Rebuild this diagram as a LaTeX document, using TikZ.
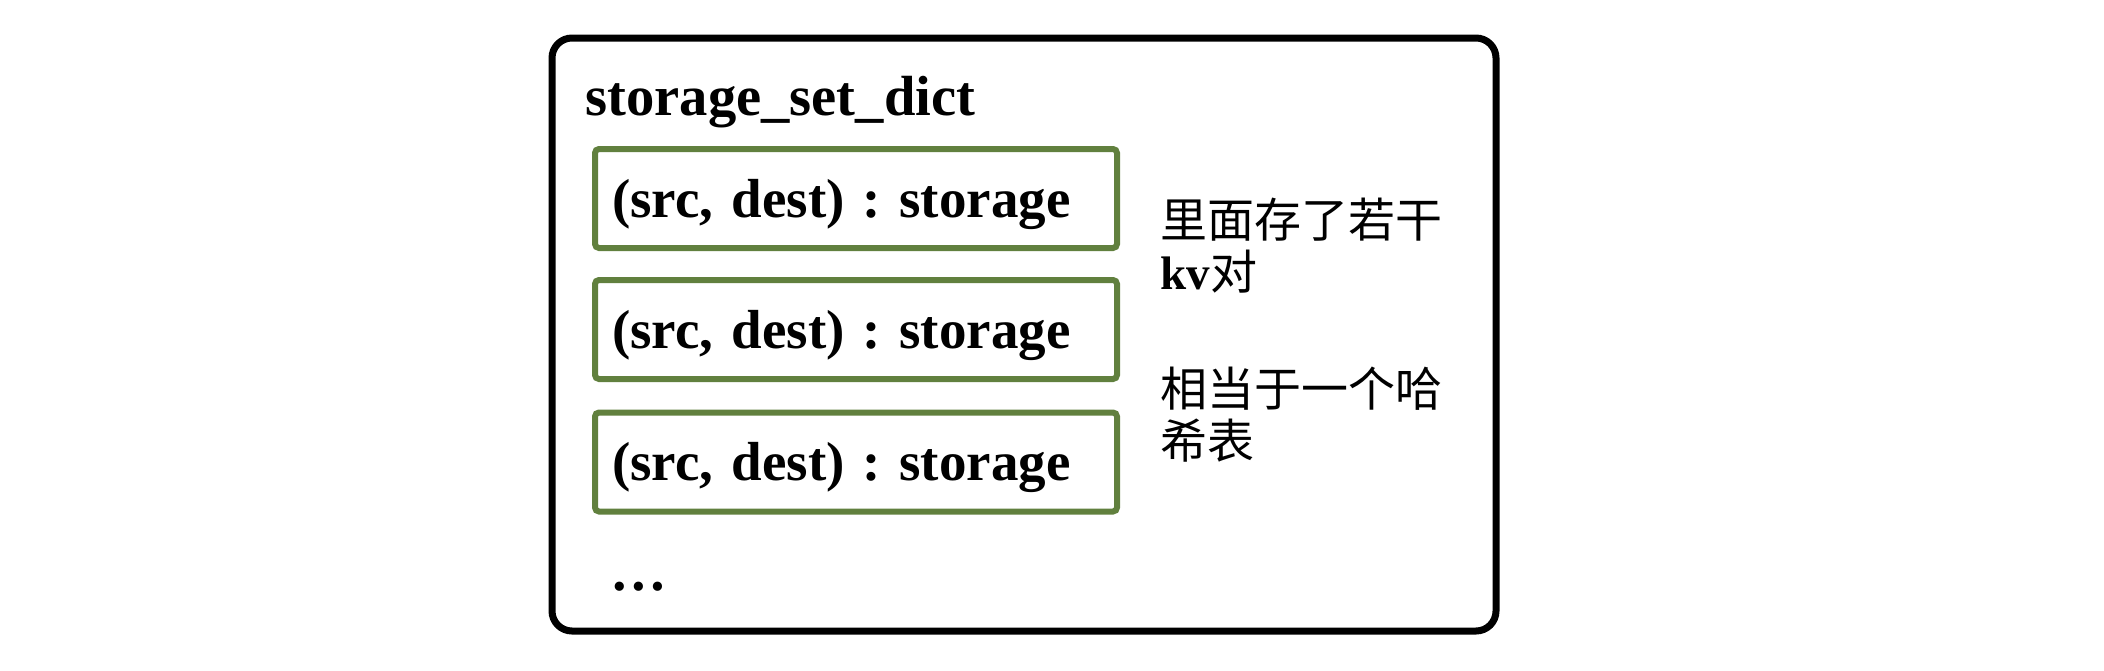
\documentclass[tikz,border=0pt]{standalone}
\usepackage{fontspec}
\setmainfont{Liberation Serif}
\newfontfamily\cjk{Noto Sans CJK SC}
\definecolor{kvgreen}{RGB}{97,128,62}
\frenchspacing
\begin{document}
\begin{tikzpicture}[x=0.5pt,y=-0.5pt,
  outerbox/.style={draw=black, line width=3.5pt, rounded corners=10pt, minimum width=472pt, minimum height=296.5pt, inner sep=0pt},
  kvbox/.style={draw=kvgreen, line width=3pt, rounded corners=2pt, inner xsep=8.5pt, inner ysep=0pt,
    text width=244pt, align=left, text height=34pt, text depth=15.5pt,
    font=\fontsize{27.5}{32}\selectfont\bfseries},
  lbl/.style={inner sep=0pt, anchor=base west, font=\fontsize{28.3}{32}\selectfont\bfseries},
  note/.style={inner sep=0pt, anchor=base west, align=left, font=\fontsize{23.5}{26}\selectfont}
]
\useasboundingbox (0,0) rectangle (2104,670);
\node[outerbox] (dict) at (1024,334.5) {};
\node[lbl] (title) at (585,115) {storage\_set\_dict};
\node[kvbox] (kv1) at (856,198.5) {(src, dest) : storage};
\node[kvbox] (kv2) at (856,329.5) {(src, dest) : storage};
\node[kvbox] (kv3) at (856,462) {(src, dest) : storage};
\node[lbl] (dots) at (610,590) {…};
\node[note] (note1) at (1160,289) {\cjk 里面存了若干\\{\bfseries kv}\cjk 对};
\node[note] (note2) at (1160,458) {\cjk 相当于一个哈\\\cjk 希表};
\end{tikzpicture}
\end{document}
